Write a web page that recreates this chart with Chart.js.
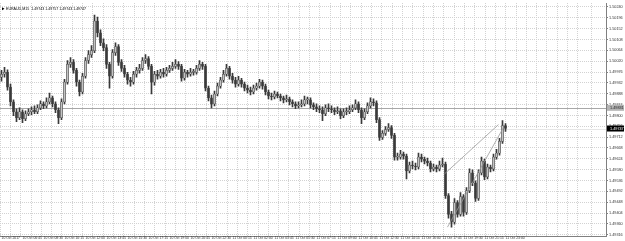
<!DOCTYPE html>
<html>
<head>
<meta charset="utf-8">
<script src="https://cdn.jsdelivr.net/npm/chart.js@4/dist/chart.umd.min.js"></script>
<style>
html, body { margin: 0; padding: 0; background: #fff; }
#wrap { width: 625px; height: 241px; position: relative; }
</style>
</head>
<body>
<div id="wrap"><canvas id="chart"></canvas></div>
<script>
// EURAUD M15 candles
let opens = [1.49955,1.49967,1.49975,1.49915,1.49855,1.49815,1.49791,1.49815,1.49787,1.49807,
1.49815,1.49823,1.49815,1.49831,1.49847,1.49839,1.49855,1.49871,1.49847,1.49823,
1.49791,1.49855,1.49935,1.50007,1.50015,1.49983,1.49935,1.49895,1.49959,1.50023,
1.50047,1.50063,1.50183,1.50135,1.50095,1.50075,1.50007,1.49959,1.50055,1.50079,
1.50015,1.49991,1.49967,1.49943,1.49935,1.49967,1.49983,1.49991,1.50023,1.50031,
1.49999,1.49935,1.49967,1.49959,1.49975,1.49967,1.49983,1.49991,1.49999,1.50007,
1.49999,1.49951,1.49975,1.49967,1.49975,1.49975,1.49991,1.50007,1.49999,1.49911,
1.49871,1.49847,1.49887,1.49919,1.49943,1.49967,1.49991,1.49959,1.49943,1.49927,
1.49943,1.49927,1.49911,1.49903,1.49895,1.49911,1.49919,1.49935,1.49919,1.49895,
1.49879,1.49875,1.49887,1.49879,1.49871,1.49863,1.49867,1.49855,1.49847,1.49839,
1.49843,1.49847,1.49863,1.49863,1.49843,1.49835,1.49827,1.49823,1.49807,1.49831,
1.49827,1.49823,1.49815,1.49819,1.49799,1.49815,1.49815,1.49823,1.49831,1.49847,
1.49823,1.49791,1.49815,1.49839,1.49855,1.49851,1.49783,1.49711,1.49727,1.49743,
1.49751,1.49719,1.49631,1.49631,1.49643,1.49635,1.49575,1.49599,1.49595,1.49591,
1.49631,1.49623,1.49615,1.49607,1.49583,1.49591,1.49583,1.49599,1.49603,1.49475,
1.49399,1.49367,1.49447,1.49399,1.49471,1.49407,1.49495,1.49567,1.49527,1.49463,
1.49567,1.49615,1.49551,1.49591,1.49583,1.49631,1.49647,1.49695,1.49759];

let highs = [1.49983,1.49995,1.49985,1.49927,1.49863,1.49827,1.49831,1.49823,1.49819,1.49827,
1.49835,1.49839,1.49843,1.49859,1.49855,1.49871,1.49891,1.49879,1.49855,1.49831,
1.49867,1.49947,1.50023,1.50035,1.50027,1.49991,1.49943,1.49971,1.50035,1.50063,
1.50083,1.50207,1.50199,1.50147,1.50111,1.50087,1.50015,1.50067,1.50095,1.50087,
1.50027,1.50003,1.49975,1.49955,1.49979,1.49995,1.50007,1.50035,1.50047,1.50039,
1.50007,1.49979,1.49983,1.49987,1.49991,1.49995,1.50003,1.50015,1.50027,1.50019,
1.50007,1.49987,1.49983,1.49991,1.49987,1.50003,1.50023,1.50015,1.50007,1.49919,
1.49883,1.49899,1.49931,1.49955,1.49983,1.50007,1.49999,1.49971,1.49955,1.49959,
1.49951,1.49935,1.49923,1.49915,1.49923,1.49931,1.49947,1.49943,1.49927,1.49903,
1.49891,1.49899,1.49895,1.49887,1.49879,1.49883,1.49875,1.49863,1.49855,1.49855,
1.49863,1.49879,1.49875,1.49871,1.49851,1.49847,1.49839,1.49835,1.49843,1.49847,
1.49839,1.49831,1.49835,1.49827,1.49827,1.49831,1.49839,1.49843,1.49863,1.49855,
1.49831,1.49827,1.49851,1.49871,1.49867,1.49859,1.49791,1.49739,1.49755,1.49767,
1.49759,1.49727,1.49647,1.49659,1.49651,1.49643,1.49611,1.49615,1.49607,1.49647,
1.49643,1.49631,1.49627,1.49615,1.49603,1.49599,1.49615,1.49627,1.49611,1.49483,
1.49411,1.49463,1.49455,1.49487,1.49479,1.49507,1.49583,1.49579,1.49535,1.49579,
1.49631,1.49623,1.49603,1.49599,1.49643,1.49663,1.49707,1.49779,1.49767];

let lows = [1.49939,1.49955,1.49903,1.49839,1.49799,1.49775,1.49783,1.49771,1.49779,1.49799,
1.49803,1.49807,1.49807,1.49823,1.49827,1.49831,1.49847,1.49835,1.49811,1.49767,
1.49783,1.49847,1.49927,1.49995,1.49971,1.49919,1.49879,1.49887,1.49951,1.50011,
1.50035,1.50055,1.50119,1.50083,1.50063,1.49991,1.49911,1.49951,1.50043,1.50003,
1.49979,1.49955,1.49927,1.49919,1.49927,1.49955,1.49971,1.49983,1.50011,1.49987,
1.49887,1.49923,1.49947,1.49951,1.49955,1.49959,1.49975,1.49983,1.49991,1.49987,
1.49939,1.49943,1.49955,1.49959,1.49963,1.49967,1.49983,1.49987,1.49899,1.49859,
1.49831,1.49839,1.49879,1.49911,1.49935,1.49959,1.49947,1.49931,1.49915,1.49919,
1.49915,1.49899,1.49891,1.49883,1.49887,1.49903,1.49911,1.49907,1.49883,1.49867,
1.49863,1.49867,1.49871,1.49859,1.49851,1.49855,1.49843,1.49835,1.49827,1.49831,
1.49835,1.49839,1.49847,1.49831,1.49823,1.49815,1.49811,1.49779,1.49799,1.49815,
1.49811,1.49803,1.49807,1.49787,1.49791,1.49803,1.49807,1.49815,1.49823,1.49811,
1.49767,1.49783,1.49807,1.49831,1.49839,1.49771,1.49699,1.49703,1.49719,1.49735,
1.49707,1.49619,1.49619,1.49623,1.49623,1.49543,1.49567,1.49583,1.49579,1.49583,
1.49611,1.49603,1.49595,1.49571,1.49575,1.49571,1.49575,1.49591,1.49463,1.49383,
1.49347,1.49359,1.49387,1.49391,1.49391,1.49399,1.49487,1.49515,1.49451,1.49455,
1.49559,1.49539,1.49543,1.49571,1.49575,1.49623,1.49639,1.49687,1.49735];

let closes = [1.49967,1.49975,1.49915,1.49855,1.49815,1.49791,1.49815,1.49787,1.49807,1.49815,
1.49823,1.49815,1.49831,1.49847,1.49839,1.49855,1.49871,1.49847,1.49823,1.49791,
1.49855,1.49935,1.50007,1.50015,1.49983,1.49935,1.49895,1.49959,1.50023,1.50047,
1.50063,1.50183,1.50135,1.50095,1.50075,1.50007,1.49959,1.50055,1.50079,1.50015,
1.49991,1.49967,1.49943,1.49935,1.49967,1.49983,1.49991,1.50023,1.50031,1.49999,
1.49935,1.49967,1.49959,1.49975,1.49967,1.49983,1.49991,1.49999,1.50007,1.49999,
1.49951,1.49975,1.49967,1.49975,1.49975,1.49991,1.50007,1.49999,1.49911,1.49871,
1.49847,1.49887,1.49919,1.49943,1.49967,1.49991,1.49959,1.49943,1.49927,1.49943,
1.49927,1.49911,1.49903,1.49895,1.49911,1.49919,1.49935,1.49919,1.49895,1.49879,
1.49875,1.49887,1.49879,1.49871,1.49863,1.49867,1.49855,1.49847,1.49839,1.49843,
1.49847,1.49863,1.49863,1.49843,1.49835,1.49827,1.49823,1.49807,1.49831,1.49827,
1.49823,1.49815,1.49819,1.49799,1.49815,1.49815,1.49823,1.49831,1.49847,1.49823,
1.49791,1.49815,1.49839,1.49855,1.49851,1.49783,1.49711,1.49727,1.49743,1.49751,
1.49719,1.49631,1.49631,1.49643,1.49635,1.49575,1.49599,1.49595,1.49591,1.49631,
1.49623,1.49615,1.49607,1.49583,1.49591,1.49583,1.49599,1.49603,1.49475,1.49399,
1.49367,1.49447,1.49399,1.49471,1.49407,1.49495,1.49567,1.49527,1.49463,1.49567,
1.49615,1.49551,1.49591,1.49583,1.49631,1.49647,1.49695,1.49759,1.49747];

// one time label every 7 bars
let tickLabels = ['10 Oct 2017','10 Oct 06:45','10 Oct 08:30','10 Oct 10:15','10 Oct 12:00',
'10 Oct 13:45','10 Oct 15:30','10 Oct 17:15','10 Oct 19:00','10 Oct 20:45','10 Oct 22:30',
'11 Oct 00:15','11 Oct 02:00','11 Oct 03:45','11 Oct 05:30','11 Oct 07:15','11 Oct 09:00',
'11 Oct 10:45','11 Oct 12:30','11 Oct 14:15','11 Oct 16:00','11 Oct 17:45','11 Oct 19:30',
'11 Oct 21:15','11 Oct 23:00'];

let yTicks = [1.50240,1.50196,1.50152,1.50108,1.50064,1.50020,1.49976,1.49932,1.49888,1.49844,
1.49800,1.49756,1.49712,1.49668,1.49624,1.49580,1.49536,1.49492,1.49448,1.49404,1.49360,1.49316];

let levelPrice = 1.49831;
// trend channel, x in bar slots
let trendUpper = [{x: 149.0, y: 1.49563}, {x: 167.3, y: 1.49763}];
let trendLower = [{x: 150.0, y: 1.49347}, {x: 169.0, y: 1.49751}];
let titleText = 'EURAUD,M15  1.49743 1.49757 1.49743 1.49747';

let barsPerLabel = 7;
let totalSlots = 202;

let slots = [];
for (let i = 0; i < totalSlots; i++) slots.push(i);

let lastClose = closes[closes.length - 1];

// extra lines and labels (level line, bid box, title)
let overlay = {
	id: 'overlay',
	beforeDatasetsDraw(chart) {
		let ctx = chart.ctx;
		let a = chart.chartArea;
		let y = chart.scales.y;
		ctx.save();
		let ly = Math.round(y.getPixelForValue(levelPrice)) + 0.5;
		ctx.strokeStyle = '#a8a8a8';
		ctx.lineWidth = 1;
		ctx.beginPath();
		ctx.moveTo(a.left, ly);
		ctx.lineTo(a.right, ly);
		ctx.stroke();
		let by = Math.round(y.getPixelForValue(lastClose)) + 0.5;
		ctx.strokeStyle = '#e6e6e6';
		ctx.beginPath();
		ctx.moveTo(a.left, by);
		ctx.lineTo(a.right, by);
		ctx.stroke();
		ctx.restore();
	},
	afterDraw(chart) {
		let ctx = chart.ctx;
		let a = chart.chartArea;
		let y = chart.scales.y;
		ctx.save();
		ctx.font = '3.8px "Liberation Sans"';
		ctx.textBaseline = 'middle';
		ctx.textAlign = 'left';
		let ly = y.getPixelForValue(levelPrice);
		ctx.fillStyle = '#b4b4b4';
		ctx.fillRect(a.right + 1, ly - 3, 17, 6);
		ctx.fillStyle = '#222';
		ctx.fillText(levelPrice.toFixed(5), a.right + 4, ly);
		let by = y.getPixelForValue(lastClose);
		ctx.fillStyle = '#000';
		ctx.fillRect(a.right + 1, by - 3, 17, 6);
		ctx.fillStyle = '#fff';
		ctx.fillText(lastClose.toFixed(5), a.right + 4, by);
		// title
		ctx.fillStyle = '#000';
		ctx.beginPath();
		ctx.moveTo(a.left + 2, a.top + 4);
		ctx.lineTo(a.left + 4.5, a.top + 5.5);
		ctx.lineTo(a.left + 2, a.top + 7);
		ctx.fill();
		ctx.font = '3.6px "Liberation Sans"';
		ctx.fillText(titleText, a.left + 6, a.top + 5.5);
		ctx.restore();
	}
};

let chartCanvas = document.querySelector('#chart');
let contex = chartCanvas.getContext('2d');

let candleChart = new Chart(contex, {
	type: 'bar',
	data: {
		labels: slots,
		datasets: [
			{
				type: 'line',
				data: trendUpper,
				borderColor: '#9a9a9a',
				borderWidth: 0.8,
				pointRadius: 0,
				xAxisID: 'xg',
				order: 0
			},
			{
				type: 'line',
				data: trendLower,
				borderColor: '#9a9a9a',
				borderWidth: 0.8,
				pointRadius: 0,
				xAxisID: 'xg',
				order: 0
			},
			{
				label: 'body',
				data: opens.map((o, i) => [o, closes[i]]),
				backgroundColor: (c) => closes[c.dataIndex] >= opens[c.dataIndex] ? '#c4c4c4' : '#3a3a3a',
				borderColor: '#3a3a3a',
				borderWidth: 0.5,
				borderSkipped: false,
				barThickness: 2,
				minBarLength: 1,
				grouped: false,
				order: 1
			},
			{
				label: 'wick',
				data: lows.map((l, i) => [l, highs[i]]),
				backgroundColor: '#3a3a3a',
				barThickness: 1,
				grouped: false,
				order: 2
			}
		]
	},
	options: {
		responsive: true,
		maintainAspectRatio: false,
		animation: false,
		layout: { padding: 0 },
		plugins: {
			legend: { display: false },
			tooltip: { enabled: false }
		},
		scales: {
			x: {
				type: 'category',
				offset: true,
				grid: { display: false, drawTicks: false },
				border: { display: true, color: '#808080' },
				ticks: {
					autoSkip: false,
					maxRotation: 0,
					minRotation: 0,
					align: 'start',
					padding: 0.5,
					color: '#333',
					font: { family: 'Liberation Sans', size: 3.4 },
					callback: (v, i) => (i % barsPerLabel === 0 && i / barsPerLabel < tickLabels.length) ? tickLabels[i / barsPerLabel] : ''
				},
				afterFit: (s) => { s.height = 5; }
			},
			xg: {
				type: 'linear',
				position: 'top',
				min: 0,
				max: totalSlots,
				grid: { color: '#d2d2d2', drawTicks: false },
				border: { display: false, dash: [1, 1] },
				ticks: { display: false, stepSize: 3.5 },
				afterFit: (s) => { s.height = 0; }
			},
			y: {
				position: 'right',
				min: 1.49311,
				max: 1.50255,
				afterBuildTicks: (s) => { s.ticks = yTicks.map(v => ({ value: v })); },
				grid: { color: '#d2d2d2', tickLength: 2, tickColor: '#808080' },
				border: { display: true, color: '#808080', dash: [1, 1] },
				ticks: {
					color: '#333',
					padding: 1,
					font: { family: 'Liberation Sans', size: 3.8 },
					callback: (v) => v.toFixed(5)
				},
				afterFit: (s) => { s.width = 19; }
			}
		}
	},
	plugins: [overlay]
});
</script>
</body>
</html>
